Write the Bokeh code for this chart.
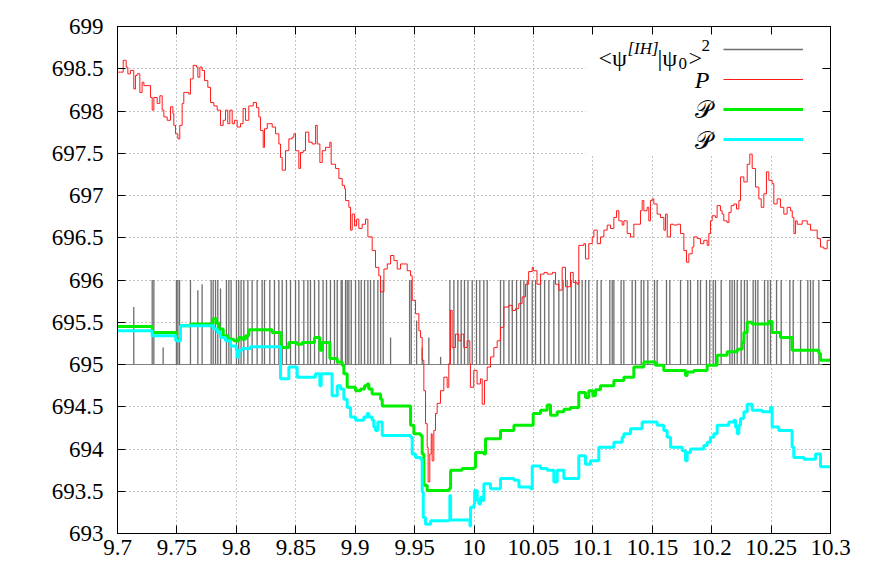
from bokeh.plotting import figure
from bokeh.models import Range1d, FixedTicker, LinearAxis, Label, Legend, LegendItem, BoxAnnotation
from bokeh.core.properties import value
from bokeh.embed import file_html
from bokeh.resources import INLINE

# ---------------- data ----------------
x_ticks = [9.7, 9.75, 9.8, 9.85, 9.9, 9.95, 10.0, 10.05, 10.1, 10.15, 10.2, 10.25, 10.3]
x_tick_labels = ["9.7", "9.75", "9.8", "9.85", "9.9", "9.95", "10", "10.05", "10.1", "10.15", "10.2", "10.25", "10.3"]
y_ticks = [693, 693.5, 694, 694.5, 695, 695.5, 696, 696.5, 697, 697.5, 698, 698.5, 699]
y_tick_labels = ["693", "693.5", "694", "694.5", "695", "695.5", "696", "696.5", "697", "697.5", "698", "698.5", "699"]

# red P (step trace)
red_x = [9.7000, 9.7025, 9.7048, 9.7067, 9.7073, 9.7087, 9.7109, 9.7137, 9.7151, 9.7165, 9.7188, 9.7207,
         9.7222, 9.7250, 9.7278, 9.7292, 9.7306, 9.7334, 9.7356, 9.7376, 9.7390, 9.7418, 9.7446, 9.7466,
         9.7474, 9.7488, 9.7508, 9.7524, 9.7544, 9.7558, 9.7600, 9.7614, 9.7637, 9.7665, 9.7676, 9.7693,
         9.7712, 9.7732, 9.7760, 9.7783, 9.7811, 9.7839, 9.7867, 9.7889, 9.7909, 9.7928, 9.7945, 9.7965,
         9.7984, 9.8007, 9.8035, 9.8057, 9.8077, 9.8105, 9.8142, 9.8170, 9.8189, 9.8203, 9.8226, 9.8237,
         9.8260, 9.8282, 9.8302, 9.8330, 9.8358, 9.8372, 9.8386, 9.8414, 9.8442, 9.8470, 9.8484, 9.8498,
         9.8526, 9.8540, 9.8563, 9.8582, 9.8610, 9.8638, 9.8667, 9.8681, 9.8703, 9.8723, 9.8751, 9.8787,
         9.8798, 9.8835, 9.8863, 9.8891, 9.8911, 9.8919, 9.8947, 9.8961, 9.8975, 9.8995, 9.9012, 9.9031,
         9.9059, 9.9087, 9.9107, 9.9143, 9.9171, 9.9199, 9.9213, 9.9242, 9.9270, 9.9298, 9.9326, 9.9354,
         9.9382, 9.9410, 9.9438, 9.9466, 9.9480, 9.9508, 9.9536, 9.9550, 9.9564, 9.9578, 9.9592, 9.9606,
         9.9614, 9.9628, 9.9640, 9.9648, 9.9662, 9.9676, 9.9690, 9.9718, 9.9746, 9.9774, 9.9788, 9.9802,
         9.9816, 9.9844, 9.9872, 9.9892, 9.9914, 9.9942, 9.9965, 9.9970, 9.9998, 10.0026, 10.0054, 10.0069,
         10.0088, 10.0111, 10.0139, 10.0167, 10.0195, 10.0223, 10.0251, 10.0293, 10.0321, 10.0349, 10.0377,
         10.0405, 10.0433, 10.0460, 10.0490, 10.0500, 10.0530, 10.0560, 10.0590, 10.0616, 10.0660, 10.0686,
         10.0714, 10.0742, 10.0770, 10.0812, 10.0835, 10.0868, 10.0882, 10.0924, 10.0938, 10.0966, 10.0995,
         10.1009, 10.1037, 10.1065, 10.1093, 10.1121, 10.1149, 10.1177, 10.1199, 10.1219, 10.1247, 10.1261,
         10.1289, 10.1317, 10.1345, 10.1373, 10.1401, 10.1415, 10.1429, 10.1457, 10.1471, 10.1485, 10.1499,
         10.1513, 10.1541, 10.1569, 10.1598, 10.1612, 10.1626, 10.1654, 10.1682, 10.1710, 10.1738, 10.1766,
         10.1788, 10.1808, 10.1836, 10.1850, 10.1878, 10.1906, 10.1934, 10.1962, 10.1976, 10.1990, 10.2004,
         10.2032, 10.2046, 10.2074, 10.2088, 10.2102, 10.2130, 10.2145, 10.2164, 10.2187, 10.2209, 10.2229,
         10.2243, 10.2271, 10.2299, 10.2321, 10.2341, 10.2369, 10.2397, 10.2417, 10.2439, 10.2461, 10.2481,
         10.2509, 10.2523, 10.2551, 10.2579, 10.2607, 10.2635, 10.2664, 10.2678, 10.2692, 10.2706, 10.2720,
         10.2762, 10.2804, 10.2832, 10.2860, 10.2888, 10.2916, 10.2944, 10.2972, 10.3000]
red_y = [698.46, 698.46, 698.60, 698.60, 698.52, 698.44, 698.48, 698.26, 698.42, 698.44, 698.22, 698.34,
         698.30, 698.30, 698.16, 698.01, 698.16, 698.09, 698.18, 698.01, 697.93, 697.89, 698.05, 697.97,
         697.83, 697.73, 697.67, 697.83, 698.09, 698.22, 698.20, 698.38, 698.54, 698.52, 698.40, 698.52,
         698.48, 698.36, 698.28, 698.10, 698.06, 698.01, 697.83, 697.89, 698.01, 697.85, 698.01, 697.85,
         697.89, 697.81, 697.85, 698.03, 697.89, 698.06, 698.10, 698.04, 697.93, 697.77, 697.57, 697.79,
         697.85, 697.85, 697.81, 697.73, 697.61, 697.45, 697.30, 697.53, 697.67, 697.69, 697.73, 697.53,
         697.32, 697.51, 697.53, 697.75, 697.63, 697.61, 697.83, 697.61, 697.39, 697.53, 697.57, 697.63,
         697.37, 697.32, 697.20, 697.12, 697.08, 696.94, 696.86, 696.59, 696.78, 696.64, 696.72, 696.61,
         696.66, 696.72, 696.51, 696.35, 696.15, 696.05, 695.86, 696.13, 696.19, 696.29, 696.23, 696.13,
         696.19, 696.19, 696.11, 696.05, 695.76, 695.60, 695.40, 695.32, 695.05, 694.69, 694.30, 694.02,
         693.61, 693.94, 694.18, 693.86, 694.22, 694.42, 694.54, 694.69, 694.85, 694.73, 695.01, 695.64,
         695.20, 695.36, 695.28, 695.36, 695.20, 695.28, 695.01, 694.73, 694.93, 694.77, 694.83, 694.53,
         694.81, 694.97, 695.09, 695.20, 695.28, 695.44, 695.68, 695.70, 695.64, 695.66, 695.72,
         695.80, 695.95, 696.10, 696.15, 696.11, 695.95, 696.07, 696.09, 696.07, 696.09, 695.95,
         695.88, 696.15, 695.92, 696.09, 695.97, 695.95, 696.41, 696.43, 696.25, 696.43, 696.51,
         696.59, 696.43, 696.51, 696.59, 696.65, 696.61, 696.74, 696.82, 696.70, 696.65, 696.70,
         696.55, 696.51, 696.66, 696.66, 696.82, 696.94, 696.82, 696.86, 696.70, 696.94, 696.96,
         696.90, 696.78, 696.74, 696.59, 696.78, 696.51, 696.66, 696.65, 696.66, 696.55, 696.35,
         696.21, 696.31, 696.39, 696.51, 696.49, 696.43, 696.47, 696.41, 696.55, 696.70, 696.76,
         696.74, 696.88, 696.82, 696.78, 696.70, 696.68, 696.80, 696.88, 696.90, 696.84, 696.94,
         697.22, 697.16, 697.37, 697.49, 697.32, 697.10, 696.96, 696.86, 697.02, 697.28, 697.18,
         697.14, 696.90, 696.96, 696.86, 696.78, 696.86, 696.82, 696.74, 696.55, 696.70, 696.66,
         696.70, 696.66, 696.59, 696.59, 696.49, 696.39, 696.37, 696.47, 696.57]

# grey <psi^[IH]|psi_0>^2 : baseline 695 with excursions (x, peak value)
gray_base = 695.0
gray_x = [9.7137, 9.7292, 9.7306, 9.7384, 9.7496, 9.7508, 9.7522, 9.7614, 9.7676, 9.7712, 9.7788, 9.7805,
          9.7825, 9.7844, 9.7867, 9.7917, 9.7937, 9.7956, 9.8001, 9.8020, 9.8040, 9.8063, 9.8097, 9.8133,
          9.8175, 9.8217, 9.8237, 9.8282, 9.8321, 9.8358, 9.8386, 9.8422, 9.8456, 9.8498, 9.8526, 9.8568,
          9.8602, 9.8624, 9.8658, 9.8694, 9.8730, 9.8759, 9.8792, 9.8826, 9.8849, 9.8882, 9.8919, 9.8947,
          9.8891, 9.8933, 9.8967, 9.9003, 9.9031, 9.9051, 9.9079, 9.9107, 9.9129, 9.9158, 9.9191, 9.9214,
          9.9236, 9.9298, 9.9458, 9.9472, 9.9517, 9.9564, 9.9620, 9.9719, 9.9797, 9.9831, 9.9864, 9.9892,
          9.9920, 9.9949, 9.9985, 10.0021, 10.0049, 10.0083, 10.0111, 10.0223, 10.0251, 10.0294, 10.0322,
          10.0358, 10.0392, 10.0420, 10.0448, 10.0490, 10.0518, 10.0560, 10.0594, 10.0630, 10.0672, 10.0714,
          10.0750, 10.0784, 10.0818, 10.0855, 10.0883, 10.0910, 10.0938, 10.0966, 10.1036, 10.1070, 10.1143,
          10.1163, 10.1177, 10.1238, 10.1261, 10.1331, 10.1359, 10.1407, 10.1429, 10.1463, 10.1519, 10.1541,
          10.1620, 10.1648, 10.1738, 10.1799, 10.1822, 10.1883, 10.1906, 10.1956, 10.1984, 10.2013, 10.2032,
          10.2080, 10.2153, 10.2172, 10.2192, 10.2215, 10.2248, 10.2276, 10.2299, 10.2349, 10.2369, 10.2389,
          10.2445, 10.2473, 10.2495, 10.2546, 10.2585, 10.2658, 10.2686, 10.2748, 10.2809, 10.2832, 10.2854,
          10.2902]
gray_y = [695.68, 696.0, 696.0, 695.20, 696.0, 696.0, 696.0, 696.0, 695.88, 695.95, 696.0, 696.0,
          696.0, 696.0, 695.90, 696.0, 696.0, 696.0, 696.0, 696.0, 696.0, 696.0, 696.0, 696.0,
          696.0, 696.0, 696.0, 696.0, 696.0, 696.0, 696.0, 696.0, 696.0, 696.0, 696.0, 696.0,
          696.0, 696.0, 696.0, 696.0, 696.0, 696.0, 696.0, 696.0, 696.0, 696.0, 696.0, 696.0,
          696.0, 696.0, 696.0, 696.0, 696.0, 696.0, 696.0, 696.0, 696.0, 696.0, 696.0, 696.0,
          696.0, 695.32, 696.0, 696.0, 695.52, 695.20, 695.32, 695.09, 696.0, 696.0, 696.0, 696.0,
          696.0, 696.0, 696.0, 696.0, 696.0, 696.0, 696.0, 696.0, 696.0, 696.0, 696.0,
          696.0, 696.0, 696.0, 696.0, 696.0, 696.0, 696.0, 696.0, 696.0, 696.0, 696.0,
          696.0, 696.0, 696.0, 696.0, 696.0, 696.0, 696.0, 696.0, 696.0, 696.0, 696.0,
          696.0, 696.0, 696.0, 696.0, 696.0, 696.0, 696.0, 696.0, 696.0, 696.0, 696.0,
          696.0, 696.0, 696.0, 696.0, 696.0, 696.0, 696.0, 696.0, 696.0, 696.0, 696.0,
          696.0, 696.0, 696.0, 696.0, 696.0, 696.0, 696.0, 696.0, 696.0, 696.0, 696.0,
          696.0, 696.0, 696.0, 696.0, 696.0, 696.0, 696.0, 696.0, 696.0, 696.0, 696.0,
          696.0]

# green script-P (step)
green_x = [9.7000, 9.7292, 9.7496, 9.7530, 9.7614, 9.7805, 9.7833, 9.7853, 9.7890, 9.7930, 9.7979, 9.8021,
           9.8049, 9.8077, 9.8105, 9.8301, 9.8377, 9.8442, 9.8512, 9.8554, 9.8658, 9.8703, 9.8722, 9.8787,
           9.8849, 9.8891, 9.8905, 9.8933, 9.9003, 9.9045, 9.9079, 9.9101, 9.9115, 9.9143, 9.9214, 9.9228,
           9.9466, 9.9494, 9.9550, 9.9564, 9.9578, 9.9606, 9.9789, 9.9803, 9.9900, 10.0000, 10.0013, 10.0083,
           10.0097, 10.0223, 10.0336, 10.0498, 10.0560, 10.0616, 10.0644, 10.0700, 10.0757, 10.0812, 10.0882,
           10.0938, 10.0966, 10.1000, 10.1022, 10.1064, 10.1177, 10.1261, 10.1345, 10.1429, 10.1527, 10.1597,
           10.1752, 10.1780, 10.1794, 10.1850, 10.1962, 10.2046, 10.2130, 10.2215, 10.2257, 10.2271, 10.2299,
           10.2340, 10.2439, 10.2480, 10.2509, 10.2579, 10.2677, 10.2902, 10.2916, 10.3000]
green_y = [695.45, 695.38, 695.30, 695.46, 695.48, 695.54, 695.49, 695.42, 695.34, 695.30, 695.28, 695.32,
           695.30, 695.34, 695.41, 695.38, 695.20, 695.26, 695.24, 695.26, 695.32, 695.17, 695.26, 695.07,
           695.03, 694.99, 694.89, 694.73, 694.69, 694.71, 694.75, 694.77, 694.71, 694.65, 694.59, 694.51,
           694.28, 694.18, 694.16, 693.94, 693.57, 693.51, 693.53, 693.75, 693.77, 693.78, 693.96, 693.94,
           694.12, 694.22, 694.28, 694.42, 694.46, 694.52, 694.40, 694.44, 694.47, 694.49, 694.67,
           694.61, 694.69, 694.63, 694.70, 694.75, 694.81, 694.85, 694.97, 695.03, 694.99, 694.93,
           694.93, 694.87, 694.91, 694.93, 694.99, 695.11, 695.15, 695.18, 695.26, 695.38, 695.50,
           695.48, 695.48, 695.51, 695.38, 695.32, 695.17, 695.13, 695.05, 695.07]

# cyan script-P (step)
cyan_x = [9.7000, 9.7292, 9.7490, 9.7530, 9.7810, 9.7839, 9.7867, 9.7909, 9.7951, 9.8000, 9.8007, 9.8021,
          9.8049, 9.8119, 9.8372, 9.8442, 9.8512, 9.8666, 9.8703, 9.8714, 9.8806, 9.8849, 9.8877, 9.8905,
          9.8933, 9.8961, 9.9003, 9.9073, 9.9101, 9.9115, 9.9143, 9.9157, 9.9171, 9.9191, 9.9228, 9.9466,
          9.9480, 9.9508, 9.9550, 9.9564, 9.9573, 9.9592, 9.9635, 9.9789, 9.9797, 9.9803, 9.9966, 9.9971,
          10.0000, 10.0005, 10.0027, 10.0041, 10.0055, 10.0069, 10.0083, 10.0139, 10.0223, 10.0336, 10.0378,
          10.0476, 10.0490, 10.0560, 10.0616, 10.0672, 10.0700, 10.0756, 10.0882, 10.0938, 10.0980, 10.1050,
          10.1177, 10.1247, 10.1261, 10.1317, 10.1415, 10.1541, 10.1597, 10.1625, 10.1654, 10.1752, 10.1780,
          10.1794, 10.1822, 10.1934, 10.1962, 10.1990, 10.2018, 10.2046, 10.2144, 10.2187, 10.2201, 10.2215,
          10.2229, 10.2243, 10.2271, 10.2299, 10.2341, 10.2425, 10.2495, 10.2509, 10.2565, 10.2677, 10.2691,
          10.2776, 10.2874, 10.2916, 10.3000]
cyan_y = [695.40, 695.34, 695.28, 695.46, 695.42, 695.38, 695.32, 695.28, 695.22, 695.17, 695.09, 695.17,
          695.19, 695.21, 694.83, 694.97, 694.85, 694.89, 694.75, 694.89, 694.63, 694.75, 694.71, 694.59,
          694.49, 694.38, 694.34, 694.38, 694.42, 694.38, 694.34, 694.26, 694.22, 694.32, 694.16, 694.14,
          693.94, 693.90, 693.88, 693.49, 693.19, 693.11, 693.15, 693.16, 693.45, 693.16, 693.09, 693.31,
          693.35, 693.51, 693.39, 693.35, 693.43, 693.39, 693.59, 693.53, 693.65, 693.63, 693.55,
          693.53, 693.80, 693.77, 693.75, 693.61, 693.75, 693.65, 693.92, 693.82, 693.86, 694.02,
          694.08, 694.14, 694.18, 694.24, 694.32, 694.28, 694.22, 694.14, 694.02, 693.98, 693.86,
          693.96, 694.00, 694.04, 694.08, 694.14, 694.18, 694.28, 694.32, 694.34, 694.26, 694.18,
          694.28, 694.36, 694.44, 694.53, 694.46, 694.44, 694.49, 694.26, 694.22, 694.02, 693.90,
          693.88, 693.94, 693.79, 693.80]

# ---------------- figure ----------------
FONT = "'Liberation Serif', 'Times New Roman', serif"
p = figure(width=864, height=572, output_backend="svg", toolbar_location=None,
           x_range=Range1d(x_ticks[0], x_ticks[-1]), y_range=Range1d(y_ticks[0], y_ticks[-1]),
           min_border_left=117, min_border_right=34, min_border_top=26, min_border_bottom=39,
           background_fill_color="white", border_fill_color="white")
p.outline_line_color = "black"
p.outline_line_width = 1

p.xaxis.ticker = FixedTicker(ticks=x_ticks)
p.yaxis.ticker = FixedTicker(ticks=y_ticks)
p.xaxis.major_label_overrides = dict(zip(x_ticks, x_tick_labels))
p.yaxis.major_label_overrides = dict(zip(y_ticks, y_tick_labels))

for ax in (p.xaxis[0], p.yaxis[0]):
    ax.major_label_text_font = FONT
    ax.major_label_text_font_size = "23px"
    ax.major_label_text_color = "black"
    ax.major_tick_in = 8
    ax.major_tick_out = 0
    ax.minor_tick_line_color = None
    ax.axis_line_color = "black"
    ax.major_tick_line_color = "black"
p.xaxis.major_label_standoff = 6
p.yaxis.major_label_standoff = 14

top_ax = LinearAxis(ticker=FixedTicker(ticks=x_ticks), major_label_text_font_size="1px",
                    major_label_text_color=None,
                    major_tick_in=8, major_tick_out=0, minor_tick_line_color=None,
                    major_label_standoff=0, axis_line_color="black")
right_ax = LinearAxis(ticker=FixedTicker(ticks=y_ticks), major_label_text_font_size="1px",
                      major_label_text_color=None,
                      major_tick_in=8, major_tick_out=0, minor_tick_line_color=None,
                      major_label_standoff=0, axis_line_color="black")
p.add_layout(top_ax, "above")
p.add_layout(right_ax, "right")

for g in (p.xgrid[0], p.ygrid[0]):
    g.grid_line_color = "#8a8a8a"
    g.grid_line_dash = "1 3"
    g.grid_line_width = 1
p.xgrid.ticker = FixedTicker(ticks=x_ticks)
p.ygrid.ticker = FixedTicker(ticks=y_ticks)

# key area masks the grid (as in the original key box)
key_box = BoxAnnotation(left=468, right=713, top=507, bottom=379,
                        left_units="screen", right_units="screen", top_units="screen", bottom_units="screen",
                        fill_color="white", fill_alpha=1.0, line_color=None, level="underlay")
p.add_layout(key_box)

# ---------------- series ----------------
gray_base_line = p.line([x_ticks[0], x_ticks[-1]], [gray_base, gray_base], line_color="#808080", line_width=1)
gray_r = p.segment(x0=gray_x, y0=[gray_base] * len(gray_x), x1=gray_x, y1=gray_y,
                   line_color="#6e6e6e", line_width=1.3)
red_r = p.step(red_x, red_y, mode="after", line_color="#ff1a1a", line_width=1)
green_r = p.step(green_x, green_y, mode="after", line_color="#00ee00", line_width=3)
cyan_r = p.step(cyan_x, cyan_y, mode="after", line_color="#00ffff", line_width=3)

# ---------------- key ----------------
legend = Legend(items=[LegendItem(label=value(" "), renderers=[gray_r]),
                       LegendItem(label=value(" "), renderers=[red_r]),
                       LegendItem(label=value(" "), renderers=[green_r]),
                       LegendItem(label=value(" "), renderers=[cyan_r])],
                location=(606, 384), glyph_width=80, glyph_height=20, label_height=20, label_width=1,
                label_standoff=0, spacing=10, padding=0, margin=0,
                border_line_alpha=0, background_fill_alpha=0,
                label_text_font_size="1px", label_text_color=None)
p.add_layout(legend, "center")

def lab(text, x, y, size="24px", style="normal", align="left", baseline="alphabetic"):
    p.add_layout(Label(x=x, y=y, x_units="screen", y_units="screen", text=text,
                       text_font=FONT, text_font_size=size, text_font_style=style,
                       text_align=align, text_baseline=baseline, text_color="black"))

lab("<ψ", 481, 476)
lab("[IH]", 510, 485, size="17px", style="italic")
lab("|ψ", 540, 476)
lab("0", 561, 470, size="17px")
lab(">", 571, 476)
lab("2", 584, 488, size="17px")
lab("P", 592, 454, style="italic", align="right", baseline="middle")
lab("𝒫", 594, 424, align="right", baseline="middle")
lab("𝒫", 594, 393, align="right", baseline="middle")

open("out.html", "w").write(file_html(p, INLINE))
